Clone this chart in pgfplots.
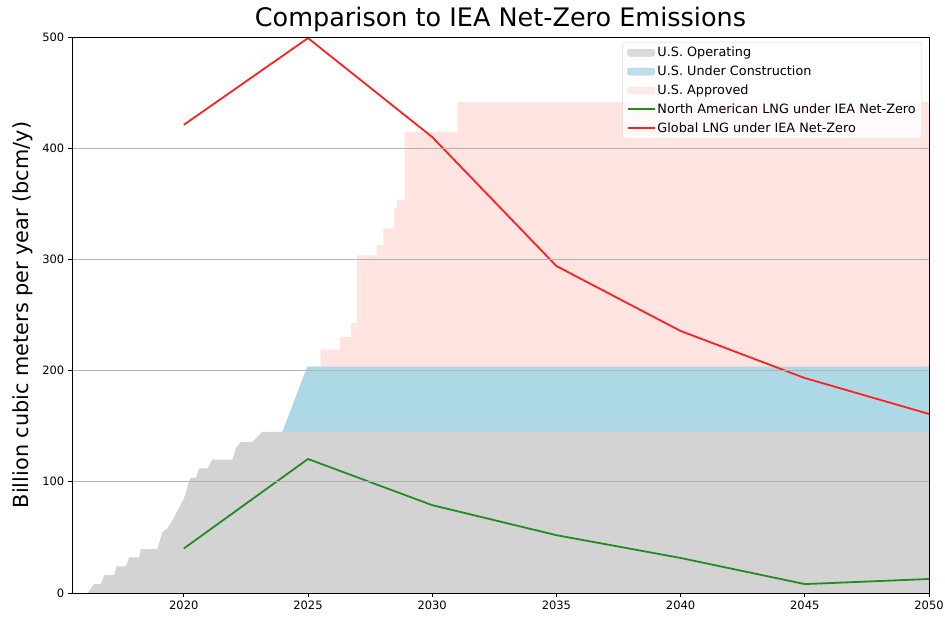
\documentclass[border=0pt]{standalone}
\usepackage{fontspec}
\setmainfont{DejaVu Sans}
\usepackage{pgfplots}
\pgfplotsset{compat=1.18}
\definecolor{opgray}{HTML}{D3D3D3}
\definecolor{ucblue}{HTML}{ADD8E6}
\definecolor{appink}{HTML}{FFE4E1}
\definecolor{lgreen}{HTML}{228B22}
\definecolor{lred}{HTML}{FF2020}
\begin{document}
\begin{tikzpicture}
\begin{axis}[
  at={(0,0)}, anchor=south west,
  scale only axis, width=857pt, height=556pt,
  xmin=2015.5, xmax=2050, ymin=0, ymax=500,
  xtick={2020,2025,...,2050}, ytick={0,100,...,500},
  xticklabel style={/pgf/number format/1000 sep={}},
  /pgf/number format/assume math mode=true,
  ticklabel style={font=\fontsize{11.5}{13}\selectfont},
  tick pos=left, tick align=outside, major tick length=4.2pt,
  every tick/.style={black, line width=0.9pt},
  axis line style={black, line width=0.9pt},
  ymajorgrids, grid style={color=black!30, line width=0.9pt},
  axis on top,
  title={Comparison to IEA Net-Zero Emissions},
  title style={font=\fontsize{25.5}{29}\selectfont, yshift=-4pt},
  ylabel={Billion cubic meters per year (bcm/y)},
  ylabel style={font=\fontsize{20.8}{24}\selectfont, yshift=3pt},
  legend style={at={(1,1)}, anchor=north east, xshift=-7pt, yshift=-5pt,
    font=\fontsize{12.8}{15}\selectfont, draw=black!15, rounded corners=2pt,
    fill=white, fill opacity=0.8, text opacity=1, row sep=3.6pt,
    inner xsep=4pt, inner ysep=3pt},
  legend cell align=left,
  legend image code/.code={\draw[#1] (0pt,0pt) -- (27pt,0pt);},
]
% approved (top layer total)
\addplot[fill=appink, draw=none, forget plot] coordinates {
(2024.97,203.5) (2025.51,203.5) (2025.51,219) (2026.28,219) (2026.28,230)
(2026.74,230) (2026.74,243) (2026.98,243) (2026.98,303.6) (2027.76,303.6)
(2027.76,313) (2028.03,313) (2028.03,328) (2028.48,328) (2028.48,346.5)
(2028.59,346.5) (2028.59,353.4) (2028.89,353.4) (2028.89,414.8) (2031.02,414.8)
(2031.02,441.5) (2050,441.5)} \closedcycle;
% under construction (cumulative)
\addplot[fill=ucblue, draw=none, forget plot] coordinates {
(2023.97,145) (2024.97,203.5) (2050,203.5)} \closedcycle;
% operating
\addplot[fill=opgray, draw=none, forget plot] coordinates {
(2016.13,0) (2016.39,8) (2016.66,8) (2016.80,16) (2017.20,16) (2017.30,24)
(2017.67,24) (2017.80,32) (2018.20,32) (2018.27,39.5) (2018.94,39.5)
(2019.14,55) (2019.34,58) (2019.55,65.6) (2020.01,85) (2020.25,103)
(2020.50,104) (2020.62,112) (2020.95,112) (2021.15,120) (2021.96,120)
(2022.10,130) (2022.29,136) (2022.76,136) (2023.16,145) (2050,145)} \closedcycle;
\addlegendimage{legend image code/.code={\fill[opgray] (0pt,-3.5pt) rectangle (27pt,3.5pt);}}
\addlegendentry{U.S. Operating}
\addlegendimage{legend image code/.code={\fill[ucblue] (0pt,-3.5pt) rectangle (27pt,3.5pt);}}
\addlegendentry{U.S. Under Construction}
\addlegendimage{legend image code/.code={\fill[appink] (0pt,-3.5pt) rectangle (27pt,3.5pt);}}
\addlegendentry{U.S. Approved}
\addplot[lgreen, line width=1.8pt] coordinates {
(2020,40) (2025,120.5) (2030,79) (2035,52) (2040,31.5) (2045,8) (2050,12.6)};
\addlegendentry{North American LNG under IEA Net-Zero}
\addplot[lred, line width=1.8pt] coordinates {
(2020,421) (2025,499) (2030,410) (2035,294) (2040,235.6) (2045,193.3) (2050,161)};
\addlegendentry{Global LNG under IEA Net-Zero}
\end{axis}
\pgfresetboundingbox
\path (-72pt,-24pt) rectangle (873pt,593pt);
\end{tikzpicture}
\end{document}
